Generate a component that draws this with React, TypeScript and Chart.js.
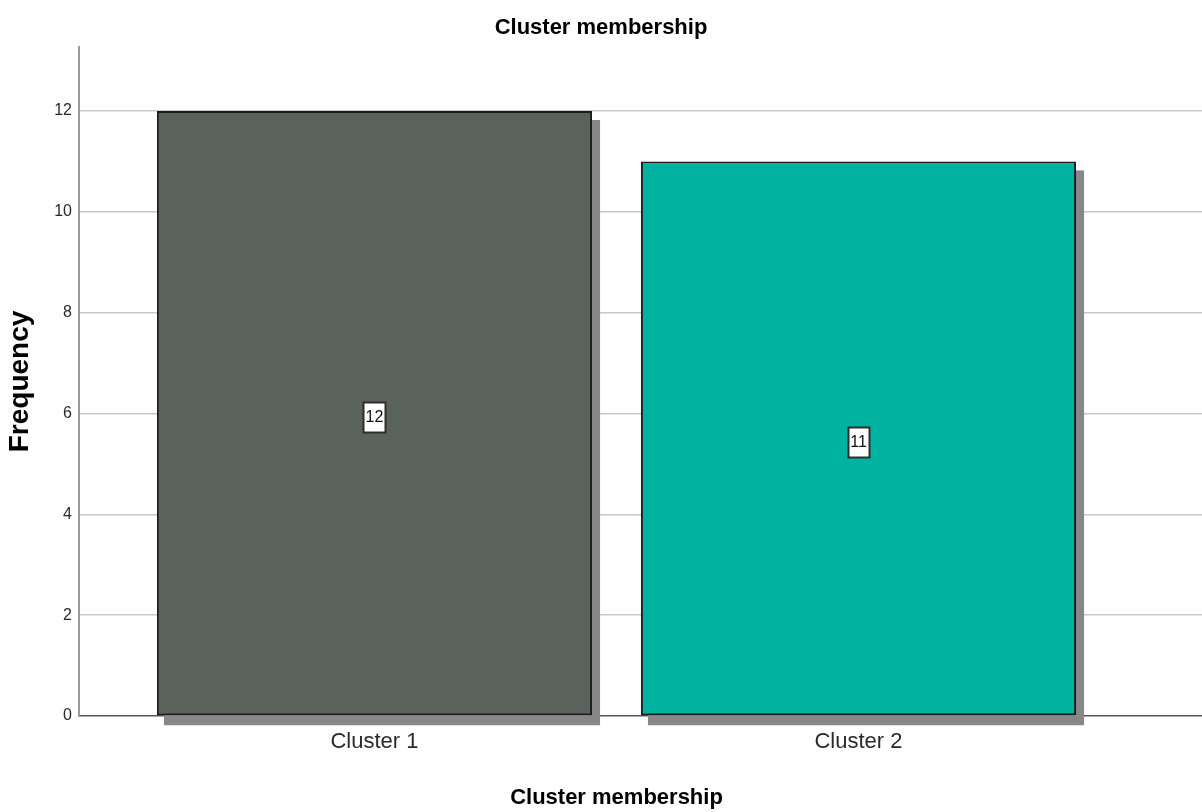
import React, { useEffect, useRef } from 'react';
import { Chart, registerables } from 'chart.js';

Chart.register(...registerables);

const categories = ['Cluster 1', 'Cluster 2'];
const frequencies = [12, 11];
const barColors = ['#5a625c', '#00b3a0'];
const yTickValues = [0, 2, 4, 6, 8, 10, 12];
const chartTitle = 'Cluster membership';
const xAxisTitle = 'Cluster membership';
const yAxisTitle = 'Frequency';

const SANS = '"Liberation Sans", Arial, sans-serif';

const shadowPlugin = {
  id: 'barShadow',
  beforeDatasetsDraw(chart: any) {
    const ctx = chart.ctx;
    const meta = chart.getDatasetMeta(0);
    ctx.save();
    ctx.fillStyle = '#878787';
    meta.data.forEach((bar: any) => {
      const { x, y, base, width } = bar.getProps(['x', 'y', 'base', 'width'], true);
      const left = x - width / 2;
      ctx.fillRect(left + 7, y + 9, width + 1, base - y + 1);
    });
    ctx.restore();
  },
};

const valueLabelPlugin = {
  id: 'valueLabels',
  afterDatasetsDraw(chart: any) {
    const ctx = chart.ctx;
    const meta = chart.getDatasetMeta(0);
    const yScale = chart.scales.y;
    ctx.save();
    ctx.font = `16px ${SANS}`;
    meta.data.forEach((bar: any, i: number) => {
      const v = frequencies[i];
      const text = String(v);
      const cy = yScale.getPixelForValue(v / 2) + 3;
      const tw = ctx.measureText(text).width;
      const w = Math.round(tw + 4);
      const h = 30;
      const bx = Math.round(bar.x - w / 2) + 0.5;
      const by = Math.round(cy - h / 2) + 0.5;
      ctx.fillStyle = '#ffffff';
      ctx.fillRect(bx, by, w, h);
      ctx.strokeStyle = '#2e2e2e';
      ctx.lineWidth = 2;
      ctx.strokeRect(bx, by, w, h);
      ctx.fillStyle = '#111111';
      ctx.textAlign = 'center';
      ctx.textBaseline = 'middle';
      ctx.fillText(text, bar.x, cy + 1);
    });
    ctx.restore();
  },
};

const xTitlePlugin = {
  id: 'xTitle',
  afterDraw(chart: any) {
    const ctx = chart.ctx;
    const xScale = chart.scales.x;
    const first = xScale.getPixelForValue(1);
    const last = xScale.getPixelForValue(categories.length);
    ctx.save();
    ctx.font = `bold 22px ${SANS}`;
    ctx.fillStyle = '#000';
    ctx.textAlign = 'center';
    ctx.textBaseline = 'middle';
    ctx.fillText(xAxisTitle, (first + last) / 2, chart.height - 14);
    ctx.restore();
  },
};

export default function App() {
  const canvasRef = useRef<HTMLCanvasElement | null>(null);

  useEffect(() => {
    if (!canvasRef.current) return;
    const chart = new Chart(canvasRef.current, {
      type: 'bar',
      data: {
        datasets: [
          {
            data: frequencies.map((v, i) => ({ x: i + 1, y: v })),
            backgroundColor: barColors,
            borderColor: '#1c1c1c',
            borderWidth: 2,
            borderSkipped: false,
            categoryPercentage: 1,
            barPercentage: 0.899,
          } as any,
        ],
      },
      options: {
        animation: false,
        responsive: false,
        devicePixelRatio: 1,
        layout: { padding: { left: 0, right: 0, top: 0, bottom: 0 } },
        plugins: {
          legend: { display: false },
          tooltip: { enabled: false },
          title: {
            display: true,
            text: chartTitle,
            color: '#000',
            font: { family: SANS, size: 22, weight: 'bold', lineHeight: 1.2 },
            padding: { top: 15, bottom: 5.6 },
          },
        },
        scales: {
          x: {
            type: 'linear',
            offset: false,
            bounds: 'data',
            grace: 0,
            min: 0.3895,
            max: 2.7097,
            grid: { display: false, offset: false },
            border: { display: true, color: '#555555', width: 1.5 },
            afterBuildTicks: (scale: any) => {
              scale.ticks = categories.map((_, i) => ({ value: i + 1 }));
            },
            afterFit: (scale: any) => {
              scale.height = 96;
            },
            ticks: {
              color: '#2a2a2a',
              padding: 5,
              font: { family: SANS, size: 22 },
              callback: (v: any) => categories[Number(v) - 1] ?? '',
              maxRotation: 0,
              autoSkip: false,
            },
            title: { display: false },
          } as any,
          y: {
            min: 0,
            max: 13.27,
            afterBuildTicks: (scale: any) => {
              scale.ticks = yTickValues.map((v) => ({ value: v }));
            },
            afterFit: (scale: any) => {
              scale.width = 79;
            },
            grid: {
              drawTicks: false,
              color: (ctx: any) => (ctx.tick && ctx.tick.value === 0 ? 'rgba(0,0,0,0)' : '#c8c8c8'),
              lineWidth: 1.5,
            },
            border: { display: true, color: '#9a9a9a', width: 2 },
            ticks: {
              color: '#2a2a2a',
              padding: 7,
              font: { family: SANS, size: 16 },
            },
            title: {
              display: true,
              text: yAxisTitle,
              color: '#000',
              font: { family: SANS, size: 28, weight: 'bold', lineHeight: 1.2 },
              padding: { top: 3, bottom: 0 },
            },
          } as any,
        },
      },
      plugins: [shadowPlugin, valueLabelPlugin, xTitlePlugin],
    });
    return () => chart.destroy();
  }, []);

  return (
    <div style={{ position: 'fixed', left: 0, top: 0, width: 1202, height: 812, background: '#fff' }}>
      <canvas ref={canvasRef} width={1202} height={812} style={{ width: 1202, height: 812, display: 'block' }} />
    </div>
  );
}
